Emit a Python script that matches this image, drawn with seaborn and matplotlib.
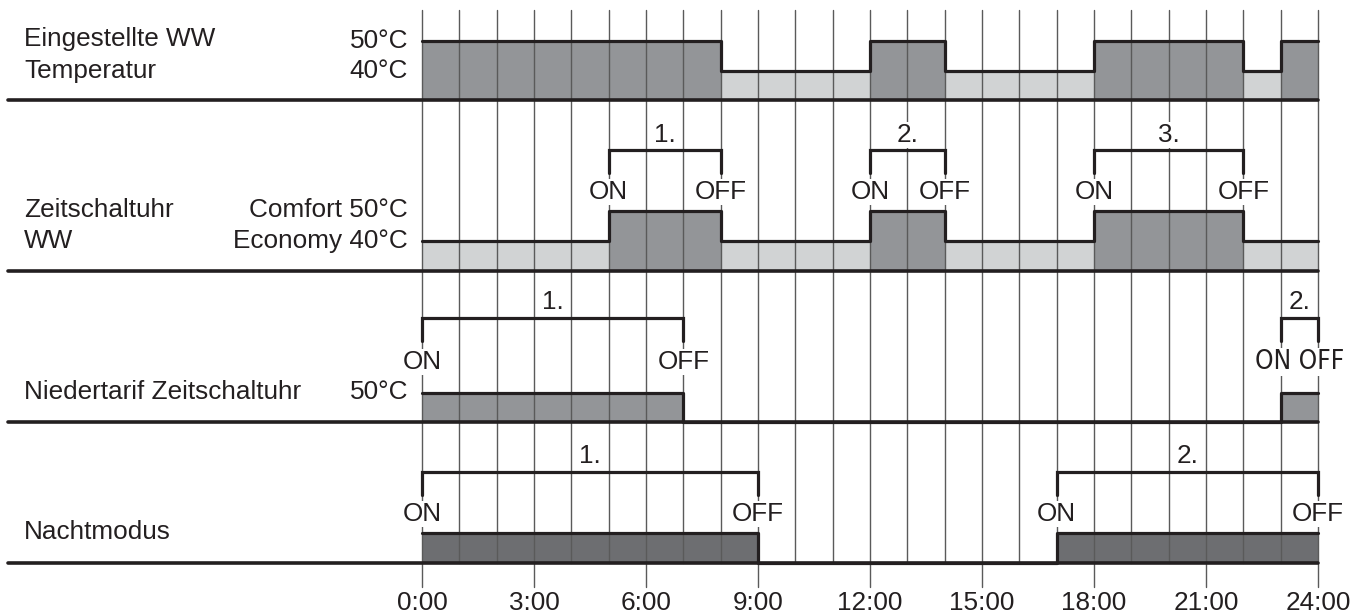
import numpy as np
import pandas as pd
import seaborn as sns
import matplotlib.pyplot as plt

# --- data ---------------------------------------------------------------
hours = list(range(0, 25))
tick_hours = [0, 3, 6, 9, 12, 15, 18, 21, 24]
tick_labels = ["0:00", "3:00", "6:00", "9:00", "12:00", "15:00", "18:00", "21:00", "24:00"]

# set DHW temperature (°C) - change points and value held until next point
ww_temp_t = [0, 8, 12, 14, 18, 22, 23, 24]
ww_temp_v = [50, 40, 50, 40, 50, 40, 50]

# DHW timer: Comfort 50 / Economy 40
timer_t = [0, 5, 8, 12, 14, 18, 22, 24]
timer_v = [40, 50, 40, 50, 40, 50, 40]
timer_periods = [(5, 8), (12, 14), (18, 22)]

# low tariff timer (1 = active)
tariff_t = [0, 7, 23, 24]
tariff_v = [1, 0, 1]
tariff_periods = [(0, 7), (23, 24)]

# night mode (1 = active)
night_t = [0, 9, 17, 24]
night_v = [1, 0, 1]
night_periods = [(0, 9), (17, 24)]

# --- layout (pixel units, y grows downwards) ----------------------------
W, H = 1354, 616
X0, X24 = 422, 1318
PPH = (X24 - X0) / 24.0


def px2h(px):
    return (px - X0) / PPH


DARK = "#939598"
LIGHT = "#d1d3d4"
DARKEST = "#6d6e71"
INK = "#231f20"
GRID = "#5a5a5a"
FS = 18.8
LW = 2.3

sns.set_theme(style="white")
plt.rcParams["font.family"] = ["Liberation Sans", "DejaVu Sans"]

fig = plt.figure(figsize=(W / 100, H / 100), dpi=100)
ax = fig.add_axes([0, 0, 1, 1])
ax.set_xlim(px2h(0), px2h(W))
ax.set_ylim(H, 0)
ax.axis("off")

# rows: baseline y, mapping value -> level y, value -> fill colour
rows = [
    dict(t=ww_temp_t, v=ww_temp_v, base=100, level={50: 41, 40: 71},
         color={50: DARK, 40: LIGHT}),
    dict(t=timer_t, v=timer_v, base=271, level={50: 211, 40: 241},
         color={50: DARK, 40: LIGHT}),
    dict(t=tariff_t, v=tariff_v, base=422, level={1: 393, 0: 422},
         color={1: DARK, 0: None}),
    dict(t=night_t, v=night_v, base=563, level={1: 533, 0: 563},
         color={1: DARKEST, 0: None}),
]

for r in rows:
    # fills
    for t0, t1, val in zip(r["t"][:-1], r["t"][1:], r["v"]):
        c = r["color"][val]
        if c is not None:
            ax.fill_between([t0, t1], r["base"], r["level"][val],
                            color=c, lw=0, zorder=1)
    # step outline
    df = pd.DataFrame({"t": r["t"], "y": [r["level"][v] for v in r["v"]] + [r["level"][r["v"][-1]]]})
    sns.lineplot(data=df, x="t", y="y", drawstyle="steps-post", color=INK,
                 lw=LW, ax=ax, zorder=4, sort=False, estimator=None)

# vertical hour grid
for h in hours:
    bottom = 587 if h in tick_hours else 563
    ax.plot([h, h], [10, bottom], color=GRID, lw=1.0, zorder=2)

# separators
for y in [100, 271, 422, 563]:
    ax.plot([px2h(8), 24], [y, y], color=INK, lw=LW + 0.3, zorder=4)

# left labels
txt = dict(fontsize=FS, color=INK, va="center", zorder=5)
xl, xr = px2h(24), px2h(408)
ax.text(xl, 39, "Eingestellte WW", ha="left", **txt)
ax.text(xl, 71, "Temperatur", ha="left", **txt)
ax.text(xr, 41, "50°C", ha="right", **txt)
ax.text(xr, 71, "40°C", ha="right", **txt)
ax.text(xl, 210, "Zeitschaltuhr", ha="left", **txt)
ax.text(xl, 241, "WW", ha="left", **txt)
ax.text(xr, 210, "Comfort 50°C", ha="right", **txt)
ax.text(xr, 241, "Economy 40°C", ha="right", **txt)
ax.text(xl, 392, "Niedertarif Zeitschaltuhr", ha="left", **txt)
ax.text(xr, 392, "50°C", ha="right", **txt)
ax.text(xl, 532, "Nachtmodus", ha="left", **txt)

# brackets with ON / OFF
box = dict(fc="white", ec="none", pad=1.0)
narrow = dict(fontsize=FS, color=INK, va="center", zorder=5,
              family=["Liberation Sans Narrow", "DejaVu Sans"],
              fontstretch="condensed", bbox=box)


def bracket(periods, y, label_y, onoff_y):
    for i, (a, b) in enumerate(periods, start=1):
        ax.plot([a, a, b, b], [y + 23, y, y, y + 23], color=INK, lw=LW,
                zorder=6, solid_joinstyle="miter")
        ax.text((a + b) / 2, label_y, f"{i}.", ha="center", bbox=box, **txt)
        if b - a >= 2:
            ax.text(a, onoff_y, "ON", ha="center", bbox=box, **txt)
            ax.text(b, onoff_y, "OFF", ha="center", bbox=box, **txt)
        else:
            ax.text((a + b) / 2, onoff_y, "ON OFF", ha="center", **narrow)


bracket(timer_periods, 150, 135, 192)
bracket(tariff_periods, 318, 302, 362)
bracket(night_periods, 472, 456, 514)

# x tick labels
for h, lab in zip(tick_hours, tick_labels):
    ax.text(h, 603, lab, ha="center", **txt)

fig.savefig("out.png", dpi=100, facecolor="white")
